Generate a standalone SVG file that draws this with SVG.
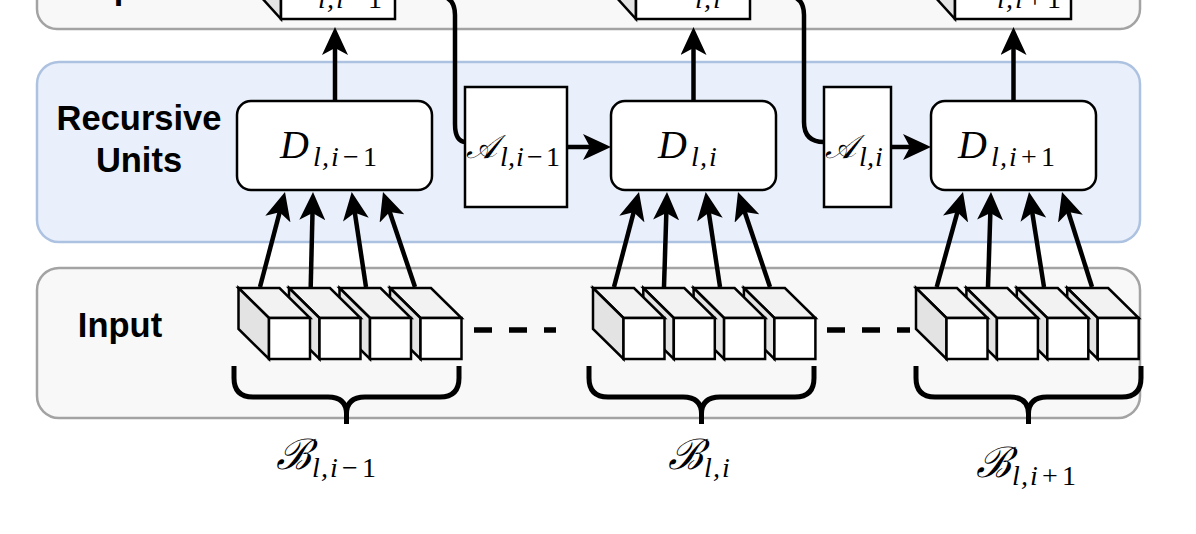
<svg xmlns="http://www.w3.org/2000/svg" width="1196" height="534" viewBox="0 0 1196 534">
<defs>
<style>
.pg{fill:#f8f8f8;stroke:#a3a3a3;stroke-width:2.5}
.pb{fill:#e9f0fb;stroke:#adc2e1;stroke-width:2.5}
.lbl{font-family:"Liberation Sans",Arial,sans-serif;font-weight:bold;font-size:34.5px;fill:#000;text-anchor:middle}
.box{fill:#fff;stroke:#000;stroke-width:2.5}
.m{font-family:"Liberation Serif","DejaVu Serif",serif;font-style:italic;font-size:40px;fill:#000}
.c{font-size:33px}
.cb{font-size:42px}
.s{font-size:28px}
.u{font-style:normal}
.ar{fill:none;stroke:#000;stroke-width:4.5;marker-end:url(#ah)}
.ln{fill:none;stroke:#000;stroke-width:4.5}
.br{fill:none;stroke:#000;stroke-width:5}
.dl{fill:none;stroke:#000;stroke-width:5.5;stroke-dasharray:18 17}
.cf{fill:#fff;stroke:#000;stroke-width:2.5}
.ct{fill:#f2f2f2;stroke:#000;stroke-width:2.5}
.cs{fill:#e3e3e3;stroke:#000;stroke-width:2.5}
</style>
<marker id="ah" markerUnits="userSpaceOnUse" markerWidth="28" markerHeight="26" viewBox="0 0 28 26" refX="18" refY="13" orient="auto">
<path d="M0,0 L28,13 L0,26 L7,13 Z" fill="#000"/>
</marker>
<g id="cube">
<polygon class="ct" points="0,0 41,0 71.5,30 30.5,30"/>
<polygon class="cs" points="0,0 30.5,30 30.5,71 0,41"/>
<rect class="cf" x="30.5" y="30" width="41" height="41"/>
</g>
</defs>

<g id="panels">
<g id="output-panel">
<rect class="pg" x="37" y="-100" width="1103" height="129" rx="20"/>
<text class="lbl" x="111" y="-1">Output</text>
</g>
<g id="recursive-panel">
<rect class="pb" x="37" y="62" width="1103" height="180" rx="22"/>
<text class="lbl" x="139" y="130">Recursive</text>
<text class="lbl" x="139" y="172">Units</text>
</g>
<g id="input-panel">
<rect class="pg" x="37" y="268" width="1103" height="150" rx="22"/>
<text class="lbl" x="120" y="337">Input</text>
</g>
</g>

<g id="connectors">
<path class="ln" d="M395,-5 H435 Q455,-5 455,15 V124 Q455,142 466,142"/>
<path class="ln" d="M750,-5 H784 Q804,-5 804,15 V122 Q804,142 824,142"/>
<path class="ar" d="M335,101 V37"/>
<path class="ar" d="M693.5,101 V37"/>
<path class="ar" d="M1013.5,101 V37"/>
<path class="ar" d="M567,147 H601"/>
<path class="ar" d="M891,147 H921"/>
<path class="ar" d="M260,287 L282.45,201.67"/>
<path class="ar" d="M310.7,287 L312.76,202"/>
<path class="ar" d="M366,287 L353.19,201.89"/>
<path class="ar" d="M415,287 L386.19,201.48"/>
<path class="ar" d="M614,287 L636.45,201.67"/>
<path class="ar" d="M664,287 L666.68,201.99"/>
<path class="ar" d="M720,287 L707.19,201.89"/>
<path class="ar" d="M770,287 L741.19,201.48"/>
<path class="ar" d="M936.7,287 L960.33,201.64"/>
<path class="ar" d="M988,287 L990.68,201.99"/>
<path class="ar" d="M1044,287 L1030.56,201.88"/>
<path class="ar" d="M1092,287 L1065.01,201.54"/>
<path class="dl" d="M474,330 H556"/>
<path class="dl" d="M827,330 H910"/>
</g>

<g id="out-1">
<polygon class="cs" points="251,-113 281,-80 281,19 251,-14"/>
<rect class="cf" x="281" y="-80" width="114" height="99"/>
<text class="m"><tspan class="s" x="318 327 336" y="8">l,i</tspan><tspan class="s u" x="348 368" y="8">−1</tspan></text>
</g>
<g id="out-2">
<polygon class="cs" points="606,-113 636,-80 636,19 606,-14"/>
<rect class="cf" x="636" y="-80" width="114" height="99"/>
<text class="m"><tspan class="s" x="695 704 713" y="8">l,i</tspan></text>
</g>
<g id="out-3">
<polygon class="cs" points="925,-113 955,-80 955,19 925,-14"/>
<rect class="cf" x="955" y="-80" width="116" height="99"/>
<text class="m"><tspan class="s" x="997 1006 1015" y="8">l,i</tspan><tspan class="s u" x="1027 1047" y="8">+1</tspan></text>
</g>

<g id="D-i-1">
<rect class="box" x="237" y="101" width="195" height="89" rx="14"/>
<text class="m" x="280" y="158">D<tspan class="s" x="313 322 331" y="166">l,i</tspan><tspan class="s u" x="343 363" y="166">−1</tspan></text>
</g>
<g id="D-i">
<rect class="box" x="611" y="101" width="165" height="89" rx="14"/>
<text class="m" x="658" y="158">D<tspan class="s" x="691 700 709" y="166">l,i</tspan></text>
</g>
<g id="D-i+1">
<rect class="box" x="931" y="101" width="165" height="89" rx="14"/>
<text class="m" x="958" y="158">D<tspan class="s" x="991 1000 1009" y="166">l,i</tspan><tspan class="s u" x="1021 1041" y="166">+1</tspan></text>
</g>
<g id="A-i-1">
<rect class="box" x="465" y="87" width="102" height="120"/>
<text class="m"><tspan class="c" x="466" y="158">𝒜</tspan><tspan class="s" x="500 508 516" y="166">l,i</tspan><tspan class="s u" x="527 546" y="166">−1</tspan></text>
</g>
<g id="A-i">
<rect class="box" x="824" y="87" width="67" height="120"/>
<text class="m"><tspan class="c" x="825" y="158">𝒜</tspan><tspan class="s" x="859 867 875" y="166">l,i</tspan></text>
</g>

<g id="inputs-1">
<use href="#cube" x="390" y="288"/>
<use href="#cube" x="339.5" y="288"/>
<use href="#cube" x="289" y="288"/>
<use href="#cube" x="238.5" y="288"/>
</g>
<g id="inputs-2">
<use href="#cube" x="743.9" y="288"/>
<use href="#cube" x="693.6" y="288"/>
<use href="#cube" x="643.3" y="288"/>
<use href="#cube" x="593" y="288"/>
</g>
<g id="inputs-3">
<use href="#cube" x="1067.2" y="288"/>
<use href="#cube" x="1016.8" y="288"/>
<use href="#cube" x="966.4" y="288"/>
<use href="#cube" x="916" y="288"/>
</g>

<g id="B-i-1">
<path class="br" d="M234,366 V378 Q234,397 253,397 H328 Q346.5,397 346.5,414 V424 M346.5,414 Q346.5,397 365,397 H440 Q459,397 459,378 V366"/>
<text class="m"><tspan class="cb" x="276" y="469">ℬ</tspan><tspan class="s" x="312 321 330" y="477">l,i</tspan><tspan class="s u" x="342 362" y="477">−1</tspan></text>
</g>
<g id="B-i">
<path class="br" d="M589,366 V378 Q589,397 608,397 H683 Q701.5,397 701.5,414 V424 M701.5,414 Q701.5,397 720,397 H795 Q814,397 814,378 V366"/>
<text class="m"><tspan class="cb" x="668" y="469">ℬ</tspan><tspan class="s" x="704 713 722" y="477">l,i</tspan></text>
</g>
<g id="B-i+1">
<path class="br" d="M916,366 V378 Q916,397 935,397 H1010 Q1028.5,397 1028.5,414 V424 M1028.5,414 Q1028.5,397 1047,397 H1122 Q1141,397 1141,378 V366"/>
<text class="m"><tspan class="cb" x="976" y="477">ℬ</tspan><tspan class="s" x="1012 1021 1030" y="485">l,i</tspan><tspan class="s u" x="1042 1062" y="485">+1</tspan></text>
</g>
</svg>
